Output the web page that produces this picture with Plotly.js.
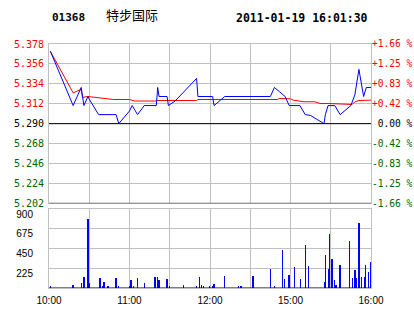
<!DOCTYPE html>
<html>
<head>
<meta charset="utf-8">
<script src="https://cdn.plot.ly/plotly-3.0.1.min.js"></script>
<style>
html,body{margin:0;padding:0;background:#fff;}
#chart{width:414px;height:314px;}
</style>
</head>
<body>
<div id="chart"></div>
<script>
// ---- data ----
const stockCode = "01368";
const stockName = "特步国际";
const stamp = "2011-01-19 16:01:30";

// minutes since 10:00 (trading minutes, lunch break removed)
const priceMinutes = [1,18,24,26,29,30,37,50,52,60,62,66,71,80,81,82,88,89,94,110,111,122,123,131,165,168,172,176,179,187,191,195,205,206,208,213,217,225,228,231,234.5,236.5,240];
const prices =       [5.370,5.310,5.330,5.310,5.320,5.317,5.300,5.300,5.290,5.304,5.310,5.300,5.310,5.310,5.330,5.320,5.320,5.310,5.315,5.340,5.320,5.320,5.310,5.320,5.320,5.330,5.325,5.320,5.310,5.310,5.300,5.299,5.290,5.300,5.310,5.310,5.300,5.310,5.322,5.350,5.320,5.330,5.330];

const avgMinutes = [1,18,24,25,29,42,48,60,64,80,80.5,110,111,170.5,171.5,180,182,190,198,202,208,226,228,231,240];
const avgPrices =  [5.370,5.324,5.328,5.319,5.320,5.3175,5.3167,5.3167,5.315,5.315,5.3156,5.3156,5.3167,5.3167,5.3178,5.3175,5.316,5.3142,5.3142,5.3123,5.3123,5.3112,5.3142,5.3156,5.316];

const volMinutes = [1,18,24,26,29,30,38,40,41,44,50,52,60,61,63,66,71,79,81,82,88,90,100,110,112,113.5,115,119.5,122,123,131,141,143,152,165,168,174,175.5,179,183,187.5,191,193.5,205.5,206,208.5,209,211,213,214,217,224,226,228,229,231,233,235,236,238,240];
const volumes =    [27,34,57,125,786,57,114,23,68,23,114,23,23,91,23,114,57,125,125,91,103,23,34,23,125,34,23,23,23,46,137,23,23,137,216,23,433,103,148,239,103,490,251,68,376,216,615,330,91,34,262,535,114,205,114,740,125,125,262,182,296];

// axis ticks
const priceTicks = [5.202,5.224,5.246,5.268,5.290,5.312,5.334,5.356,5.378];
const priceTickText = ["5.202","5.224","5.246","5.268","5.290","5.312","5.334","5.356","5.378"];
const pctTickText = ["-1.66 %","-1.25 %","-0.83 %","-0.42 %","\u00a00.00 %","+0.42 %","+0.83 %","+1.25 %","+1.66 %"];
const prevClose = 5.290;
const timeTicks = [0,30,60,90,120,150,180,210,240];
const timeTickText = ["10:00","","11:00","","12:00","","15:00","","16:00"];
const volTicks = [225,450,675,900];
const volTickText = ["225","450","675","900"];

// ---- styling helpers ----
function colorFor(v){ return v > prevClose + 1e-9 ? "#ff0000" : (v < prevClose - 1e-9 ? "#006400" : "#000000"); }
const leftText = priceTicks.map((v,i)=>'<span style="color:'+colorFor(v)+'">'+priceTickText[i]+'</span>');
const rightText = priceTicks.map((v,i)=>'<span style="color:'+colorFor(v)+'">'+pctTickText[i]+'</span>');

const grid = "#c0c0c0";
const mono = "DejaVu Sans Mono, monospace";
const sans = "Liberation Sans, Arial, sans-serif";

const traces = [
  {x: avgMinutes, y: avgPrices, type:"scatter", mode:"lines", line:{color:"#ff0000", width:1}, xaxis:"x", yaxis:"y", hoverinfo:"skip"},
  {x: priceMinutes, y: prices, type:"scatter", mode:"lines", line:{color:"#0000ff", width:1}, xaxis:"x", yaxis:"y", hoverinfo:"skip"},
  {x: volMinutes, y: volumes, type:"bar", width:1, marker:{color:"#0000ff", line:{width:0}}, xaxis:"x2", yaxis:"y2", hoverinfo:"skip"},
  {x: [0,240], y: [prevClose, prevClose], type:"scatter", mode:"lines", line:{width:0}, xaxis:"x", yaxis:"y3", hoverinfo:"skip", showlegend:false}
];

const axisCommon = {showline:true, linecolor:grid, linewidth:1, mirror:true, showgrid:true, gridcolor:grid, gridwidth:1, zeroline:false, ticks:"", fixedrange:true};

const layout = {
  width:414, height:314,
  margin:{l:49, r:43, t:44, b:26, pad:0},
  paper_bgcolor:"#ffffff", plot_bgcolor:"#ffffff",
  showlegend:false,
  xaxis: Object.assign({}, axisCommon, {domain:[0,1], range:[0,240], anchor:"y", tickvals:timeTicks, ticktext:timeTickText, showticklabels:false}),
  yaxis: Object.assign({}, axisCommon, {domain:[0.347,1], range:[5.202,5.378], anchor:"x", tickvals:priceTicks, ticktext:leftText, tickfont:{family:mono, size:10, color:"#000"}, ticklabelstandoff:2, ticklabelshift:1.5}),
  yaxis3: Object.assign({}, axisCommon, {overlaying:"y", side:"right", range:[5.202,5.378], anchor:"x", tickvals:priceTicks, ticktext:rightText, showgrid:false, tickfont:{family:mono, size:9.6, color:"#000"}, ticklabelstandoff:-2, ticklabelshift:1.5}),
  xaxis2: Object.assign({}, axisCommon, {domain:[0,1], range:[0,240], anchor:"y2", tickvals:timeTicks, ticktext:timeTickText, tickfont:{family:sans, size:10, color:"#000"}, ticklabelstandoff:3}),
  yaxis2: Object.assign({}, axisCommon, {domain:[0,0.3225], range:[0,900], anchor:"x2", tickvals:volTicks, ticktext:volTickText, tickfont:{family:sans, size:10, color:"#000"}, ticklabelstandoff:13, ticklabelshift:5}),
  bargap:0,
  shapes:[
    {type:"line", xref:"x", yref:"y", x0:0, x1:240, y0:prevClose, y1:prevClose, line:{color:"#000", width:1}},
    {type:"line", xref:"x", yref:"y", x0:0, x1:240, y0:5.202, y1:5.202, line:{color:"#000", width:1}},
    {type:"line", xref:"x2", yref:"y2", x0:0, x1:240, y0:0, y1:0, line:{color:"#000", width:1}}
  ],
  annotations:[
    {xref:"paper", yref:"paper", x:0.003, y:1.108, xanchor:"left", yanchor:"middle", text:"<b>"+stockCode+"</b>", showarrow:false, font:{family:mono, size:11, color:"#000"}},
    {xref:"paper", yref:"paper", x:0.172, y:1.12, xanchor:"left", yanchor:"middle", text:stockName, showarrow:false, font:{family:"Noto Sans CJK SC, sans-serif", size:13, color:"#000"}},
    {xref:"paper", yref:"paper", x:0.997, y:1.108, xanchor:"right", yanchor:"middle", text:"<b>"+stamp+"</b>", showarrow:false, font:{family:mono, size:11.5, color:"#000"}}
  ]
};

Plotly.newPlot("chart", traces, layout, {staticPlot:true, displayModeBar:false});
</script>
</body>
</html>
